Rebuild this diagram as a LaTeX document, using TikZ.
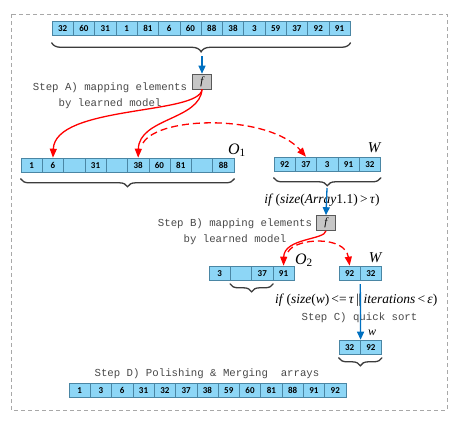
\documentclass[tikz,border=0pt]{standalone}
\usepackage{fontspec}
\setmainfont{Liberation Serif}
\newfontfamily\cellfont{Carlito}
\newfontfamily\stepfont{Liberation Mono}
\usetikzlibrary{decorations.pathreplacing,arrows.meta}
\definecolor{cellfill}{HTML}{8DD6F6}
\definecolor{cellline}{HTML}{4A86A4}
\definecolor{bluearr}{HTML}{0070C0}
\definecolor{bracecol}{HTML}{3C3C3C}
\definecolor{steptext}{HTML}{484848}
\definecolor{boxline}{HTML}{A8A8A8}
\tikzset{
 cellbox/.style={draw=cellline, fill=cellfill, line width=0.6pt, minimum width=21.3pt, minimum height=14.5pt, inner sep=0pt, font=\cellfont\bfseries\fontsize{9}{9}\selectfont},
 fbox/.style={draw=gray!70!black, fill=gray!45, line width=0.6pt, minimum width=19pt, minimum height=15pt, inner sep=0pt, font=\itshape\fontsize{11}{12}\selectfont},
 bracestyle/.style={draw=bracecol, line width=1.3pt, line cap=round, decorate, decoration={brace, mirror, amplitude=#1}},
 bracestyle/.default=8pt,
 bluearrow/.style={draw=bluearr, line width=1.3pt, -{Triangle[width=7pt,length=8pt]}},
 redarrow/.style={draw=red, line width=1.3pt, -{Triangle[width=7pt,length=9pt]}},
 reddash/.style={redarrow, dash pattern=on 7pt off 4pt},
 steplabel/.style={text=steptext, font=\stepfont\fontsize{10.7}{16}\selectfont, align=center, inner sep=0pt},
 mathlabel/.style={font=\fontsize{13.5}{14}\selectfont, inner sep=0pt},
 arrlabel/.style={font=\itshape\fontsize{15}{16}\selectfont, inner sep=0pt},
 outerbox/.style={draw=boxline, line width=0.7pt, dash pattern=on 4pt off 3pt},
}
\newcommand\cellrow[4]{\foreach \v [count=\i] in {#4} {\node[cellbox] (#1-\i) at ({#2+(\i-0.5)*21.3},{#3+7.25}) {\v};}}
\begin{document}
\begin{tikzpicture}[x=1pt,y=-1pt]
\useasboundingbox (0,0) rectangle (457,426);
\draw[outerbox] (11,14) rectangle (447,410);
\cellrow{top}{52}{21}{32,60,31,1,81,6,60,88,38,3,59,37,92,91}
\cellrow{oa}{21}{158}{1,6,{},31,{},38,60,81,{},88}
\cellrow{wa}{274}{157}{92,37,3,91,32}
\cellrow{ob}{209}{266}{3,{},37,91}
\cellrow{wb}{339}{266}{92,32}
\cellrow{wc}{339}{340}{32,92}
\cellrow{fin}{69}{383}{1,3,6,31,32,37,38,59,60,81,88,91,92}
\node[fbox] (fA) at (202,81.5) {f};
\node[fbox] (fB) at (326,223) {f};
% braces
\draw[bracestyle=9pt] ([yshift=-7pt]top-1.south west) -- ([yshift=-7pt]top-14.south east);
\draw[bracestyle] ([yshift=-6pt]oa-1.south west) -- ([yshift=-6pt]oa-10.south east);
\draw[bracestyle] ([yshift=-6pt]wa-1.south west) -- ([yshift=-6pt]wa-5.south east);
\draw[bracestyle] ([yshift=-3pt]ob-2.south west) -- ([yshift=-3pt]ob-3.south east);
\draw[bracestyle] ([yshift=-3pt]wc-1.south west) -- ([yshift=-3pt]wc-2.south east);
% labels
\node[arrlabel, font=\itshape\fontsize{16}{16}\selectfont] (lO1) at (237,150) {O\textsubscript{\upshape 1}};
\node[arrlabel] (lW1) at (374,148) {W};
\node[arrlabel, font=\itshape\fontsize{16}{16}\selectfont] (lO2) at (304,260) {O\textsubscript{\upshape 2}};
\node[arrlabel] (lW2) at (375,258) {W};
\node[arrlabel, font=\itshape\fontsize{12}{12}\selectfont] (lW3) at (372,333) {w};
\node[steplabel] (sA) at (110,96) {Step A) mapping elements\\by learned model};
\node[steplabel] (sB) at (235,232) {Step B) mapping elements\\by learned model};
\node[steplabel] (sC) at (359.5,318) {Step C) quick sort};
\node[steplabel] (sD) at (207,374) {Step D) Polishing \& Merging\ \ arrays};
\node[mathlabel] (cond1) at (322,200) {\textit{if}\,(\textit{size}(\textit{Array}1.1)\,>\,\textit{τ})};
\node[mathlabel, anchor=west] (cond2) at (275,300) {\textit{if}\,(\textit{size}(\textit{w})\,<=\,\textit{τ}\,|\kern-0.5pt|\,\textit{iterations}\,<\,\textit{ε})};
% blue arrows
\coordinate (tA) at (202,56);
\coordinate (tB) at (327,188);
\coordinate (tC) at (360.3,284);
\draw[bluearrow] (tA) -- (fA.north);
\draw[bluearrow] (tB) -- (fB.north);
\draw[bluearrow] (tC) -- (wc-1.north east);
% red arrows
\coordinate (dA) at (143,143);
\coordinate (dB) at (288,252);
\draw[redarrow] (fA.south) .. controls (200,115) and (55,105) .. (oa-2.north);
\draw[redarrow] (fA.south) .. controls (200,120) and (139,118) .. (oa-6.north);
\draw[reddash] (dA) .. controls (160,115) and (270,115) .. (wa-2.north);
\draw[redarrow] (fB.south) .. controls (325,240) and (284,238) .. (ob-4.north);
\draw[reddash] (dB) .. controls (295,238) and (345,235) .. (wb-1.north);
\end{tikzpicture}
\end{document}
